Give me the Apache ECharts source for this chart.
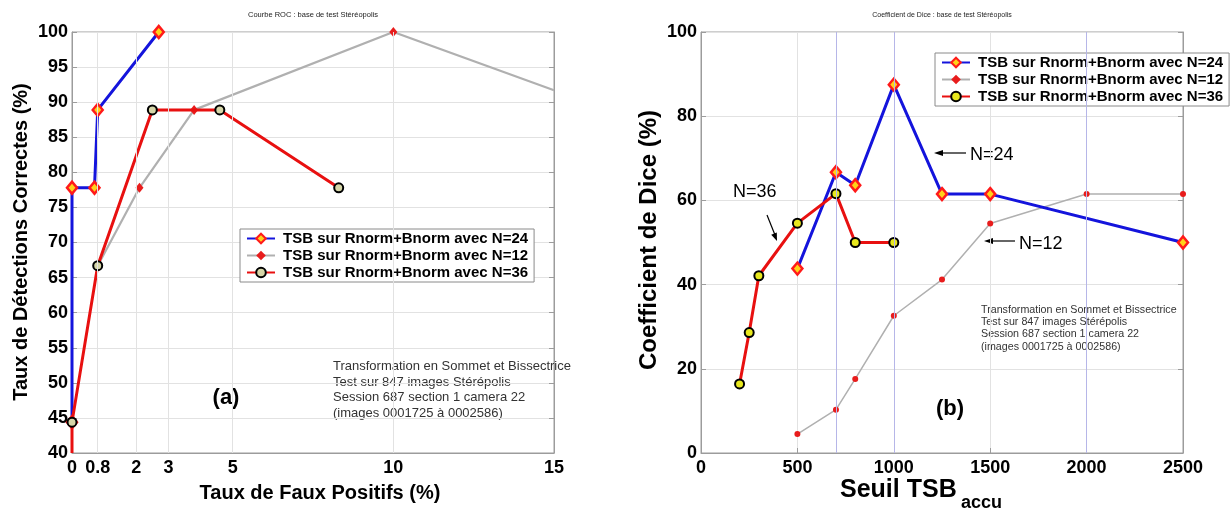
<!DOCTYPE html>
<html><head><meta charset="utf-8">
<script src="https://cdn.jsdelivr.net/npm/echarts@6/dist/echarts.min.js"></script>
<style>html,body{margin:0;padding:0;background:#fff}#c{width:1230px;height:508px}</style>
</head><body><div id="c"></div>
<script>
const FONT = "'Liberation Sans', Arial, Helvetica, sans-serif";

// ---------- (a) Courbe ROC ----------
const rocXTicks = [0, 0.8, 2, 3, 5, 10, 15];
const rocN24 = [[0, 44.4], [0, 77.8], [0.7, 77.8], [0.8, 88.9], [2.7, 100]];
const rocN12 = [[0.8, 66.7], [2.1, 77.8], [3.8, 88.9], [10, 100], [15, 91.7]];
const rocN36 = [[0, 40], [0, 44.4], [0.8, 66.7], [2.5, 88.9], [4.6, 88.9], [8.3, 77.8]];

// ---------- (b) Coefficient de Dice ----------
const diceN24 = [[500, 43.8], [700, 66.7], [800, 63.6], [1000, 87.5], [1250, 61.5], [1500, 61.5], [2500, 50]];
const diceN12 = [[500, 4.5], [700, 10.3], [800, 17.6], [1000, 32.6], [1250, 41.2], [1500, 54.5], [2000, 61.5], [2500, 61.5]];
const diceN36 = [[200, 16.4], [250, 28.6], [300, 42.1], [500, 54.6], [700, 61.6], [800, 50], [1000, 50]];
const diceMarkX = [700, 1000, 2000];

const seriesNames = ['TSB sur Rnorm+Bnorm avec N=24', 'TSB sur Rnorm+Bnorm avec N=12', 'TSB sur Rnorm+Bnorm avec N=36'];
const infoLines = ['Transformation en Sommet et Bissectrice', 'Test sur 847 images Stérépolis', 'Session 687 section 1 camera 22', '(images 0001725 à 0002586)'];
const titleA = 'Courbe ROC : base de test Stéréopolis';
const titleB = 'Coefficient de Dice : base de test Stéréopolis';

const chart = echarts.init(document.getElementById('c'), null, { renderer: 'canvas' });

const hideAt = (arr, idx) => arr.map((p, i) => i === idx ? { value: p, symbol: 'none' } : p);

const GRIDC = '#e2e2e2', BORDER = '#9c9c9c';
const tickLbl = { color: '#000', fontSize: 18, fontWeight: 'bold', fontFamily: FONT, formatter: v => String(v) };

function mkSeries(xi, yi, d24, d12, d36, leftPanel) {
  return [
    { name: seriesNames[0], type: 'line', xAxisIndex: xi, yAxisIndex: yi, data: d24, z: 3,
      symbol: 'diamond', symbolSize: [10, 12], showAllSymbol: true,
      lineStyle: { color: '#1414dc', width: 3 },
      itemStyle: { color: '#ffd21a', borderColor: '#ff1a1a', borderWidth: 2.5 } },
    { name: seriesNames[1], type: 'line', xAxisIndex: xi, yAxisIndex: yi, data: d12, z: 2,
      symbol: leftPanel ? 'diamond' : 'circle', symbolSize: leftPanel ? [8, 10] : 6, showAllSymbol: true,
      lineStyle: { color: '#b0b0b0', width: leftPanel ? 2.2 : 1.5 },
      itemStyle: { color: '#e81c1c', borderColor: '#e81c1c', borderWidth: 0 } },
    { name: seriesNames[2], type: 'line', xAxisIndex: xi, yAxisIndex: yi, data: d36, z: 4,
      symbol: 'circle', symbolSize: 9, showAllSymbol: true,
      lineStyle: { color: '#e81010', width: 3 },
      itemStyle: { color: leftPanel ? '#d6d6a8' : '#e8e81e', borderColor: '#000', borderWidth: 2 } }
  ];
}

const legendBase = {
  orient: 'vertical', itemWidth: 28, itemHeight: 12, itemGap: 2,
  padding: [2, 6, 2, 6], borderColor: '#8a8a8a', borderWidth: 1, backgroundColor: '#fff',
  textStyle: { fontSize: 15, fontWeight: 'bold', color: '#000', fontFamily: FONT, padding: [0, 0, 0, 3] },
  selectedMode: false
};

const gridMark = (xi, yi, values, color) => ({
  type: 'line', xAxisIndex: xi, yAxisIndex: yi, data: [], silent: true, z: 1,
  markLine: { silent: true, symbol: 'none', label: { show: false }, animation: false,
    lineStyle: { color: color, type: 'solid', width: 1 },
    data: values.map(v => ({ xAxis: v })) }
});

const option = {
  backgroundColor: '#fff',
  animation: false,
  grid: [
    { left: 72, top: 32, width: 482, height: 421, show: true, borderColor: BORDER, borderWidth: 1 },
    { left: 701, top: 32, width: 482, height: 421, show: true, borderColor: BORDER, borderWidth: 1 }
  ],
  xAxis: [
    { type: 'value', gridIndex: 0, min: 0, max: 15,
      axisLine: { lineStyle: { color: BORDER } },
      axisTick: { inside: true, length: 5, customValues: rocXTicks, lineStyle: { color: BORDER } },
      axisLabel: Object.assign({ margin: 6, customValues: rocXTicks }, tickLbl),
      splitLine: { show: false } },
    { type: 'value', gridIndex: 1, min: 0, max: 2500, interval: 500,
      axisLine: { lineStyle: { color: BORDER } },
      axisTick: { inside: true, length: 5, lineStyle: { color: BORDER } },
      axisLabel: Object.assign({ margin: 6 }, tickLbl),
      splitLine: { show: true, lineStyle: { color: GRIDC } } }
  ],
  yAxis: [
    { type: 'value', gridIndex: 0, min: 40, max: 100, interval: 5,
      axisLine: { show: true, lineStyle: { color: BORDER } },
      axisTick: { show: true, inside: true, length: 5, lineStyle: { color: BORDER } },
      axisLabel: Object.assign({ margin: 4 }, tickLbl),
      splitLine: { show: true, lineStyle: { color: GRIDC } } },
    { type: 'value', gridIndex: 0, min: 40, max: 100, interval: 5, position: 'right',
      axisLine: { show: true, lineStyle: { color: BORDER } },
      axisTick: { show: true, inside: true, length: 5, lineStyle: { color: BORDER } },
      axisLabel: { show: false }, splitLine: { show: false } },
    { type: 'value', gridIndex: 1, min: 0, max: 100, interval: 20,
      axisLine: { show: true, lineStyle: { color: BORDER } },
      axisTick: { show: true, inside: true, length: 5, lineStyle: { color: BORDER } },
      axisLabel: Object.assign({ margin: 4 }, tickLbl),
      splitLine: { show: true, lineStyle: { color: GRIDC } } },
    { type: 'value', gridIndex: 1, min: 0, max: 100, interval: 20, position: 'right',
      axisLine: { show: true, lineStyle: { color: BORDER } },
      axisTick: { show: true, inside: true, length: 5, lineStyle: { color: BORDER } },
      axisLabel: { show: false }, splitLine: { show: false } }
  ],
  legend: [
    Object.assign({ left: 240, top: 229, data: seriesNames.map(n => ({ name: n })) }, legendBase),
    Object.assign({ left: 935, top: 53, data: [
      { name: seriesNames[0] },
      { name: seriesNames[1], itemStyle: { color: '#e81c1c' } },
      { name: seriesNames[2], itemStyle: { color: '#e8e81e', borderColor: '#000', borderWidth: 2 } }
    ] }, legendBase)
  ],
  series: [
    gridMark(0, 0, rocXTicks.slice(1, -1), GRIDC),
    gridMark(1, 2, diceMarkX, '#b6b6e8'),
    ...mkSeries(0, 0, rocN24, hideAt(rocN12, rocN12.length - 1), hideAt(rocN36, 0), true),
    ...mkSeries(1, 2, diceN24, diceN12, diceN36, false)
  ],
  graphic: [
    { type: 'text', x: 313, y: 15, style: { text: titleA, fontSize: 7.5, fontFamily: FONT, fill: '#222', align: 'center', verticalAlign: 'middle' } },
    { type: 'text', x: 942, y: 15, style: { text: titleB, fontSize: 7, fontFamily: FONT, fill: '#222', align: 'center', verticalAlign: 'middle' } },
    { type: 'text', x: 21, y: 242, rotation: Math.PI / 2, style: { text: 'Taux de Détections Correctes (%)', fontSize: 20, fontWeight: 'bold', fontFamily: FONT, fill: '#000', align: 'center', verticalAlign: 'middle' } },
    { type: 'text', x: 649, y: 240, rotation: Math.PI / 2, style: { text: 'Coefficient de Dice (%)', fontSize: 24, fontWeight: 'bold', fontFamily: FONT, fill: '#000', align: 'center', verticalAlign: 'middle' } },
    { type: 'text', x: 320, y: 493, style: { text: 'Taux de Faux Positifs (%)', fontSize: 20, fontWeight: 'bold', fontFamily: FONT, fill: '#000', align: 'center', verticalAlign: 'middle' } },
    { type: 'text', x: 840, y: 490, style: { text: 'Seuil TSB', fontSize: 25, fontWeight: 'bold', fontFamily: FONT, fill: '#000', align: 'left', verticalAlign: 'middle' } },
    { type: 'text', x: 961, y: 503, style: { text: 'accu', fontSize: 18, fontWeight: 'bold', fontFamily: FONT, fill: '#000', align: 'left', verticalAlign: 'middle' } },
    { type: 'text', x: 226, y: 398, style: { text: '(a)', fontSize: 22, fontWeight: 'bold', fontFamily: FONT, fill: '#000', align: 'center', verticalAlign: 'middle' } },
    { type: 'text', x: 950, y: 409, style: { text: '(b)', fontSize: 22, fontWeight: 'bold', fontFamily: FONT, fill: '#000', align: 'center', verticalAlign: 'middle' } },
    { type: 'text', x: 333, y: 359, style: { text: infoLines.join('\n'), fontSize: 13, lineHeight: 15.5, fontFamily: FONT, fill: '#333', align: 'left', verticalAlign: 'top' } },
    { type: 'text', x: 981, y: 304, style: { text: infoLines.join('\n'), fontSize: 10.7, lineHeight: 12.2, fontFamily: FONT, fill: '#333', align: 'left', verticalAlign: 'top' } },
    // annotation arrows
    { type: 'line', shape: { x1: 966, y1: 153, x2: 940, y2: 153 }, style: { stroke: '#000', lineWidth: 1.2 } },
    { type: 'polygon', shape: { points: [[934, 153], [943, 150], [943, 156]] }, style: { fill: '#000' } },
    { type: 'text', x: 970, y: 155, style: { text: 'N=24', fontSize: 18, fontFamily: FONT, fill: '#000', align: 'left', verticalAlign: 'middle' } },
    { type: 'line', shape: { x1: 1015, y1: 241, x2: 990, y2: 241 }, style: { stroke: '#000', lineWidth: 1.2 } },
    { type: 'polygon', shape: { points: [[984, 241], [993, 238], [993, 244]] }, style: { fill: '#000' } },
    { type: 'text', x: 1019, y: 244, style: { text: 'N=12', fontSize: 18, fontFamily: FONT, fill: '#000', align: 'left', verticalAlign: 'middle' } },
    { type: 'line', shape: { x1: 767, y1: 215, x2: 775, y2: 235 }, style: { stroke: '#000', lineWidth: 1.2 } },
    { type: 'polygon', shape: { points: [[777, 241], [771.2, 234.7], [776.8, 232.5]] }, style: { fill: '#000' } },
    { type: 'text', x: 733, y: 192, style: { text: 'N=36', fontSize: 18, fontFamily: FONT, fill: '#000', align: 'left', verticalAlign: 'middle' } }
  ]
};
chart.setOption(option);
</script></body></html>
